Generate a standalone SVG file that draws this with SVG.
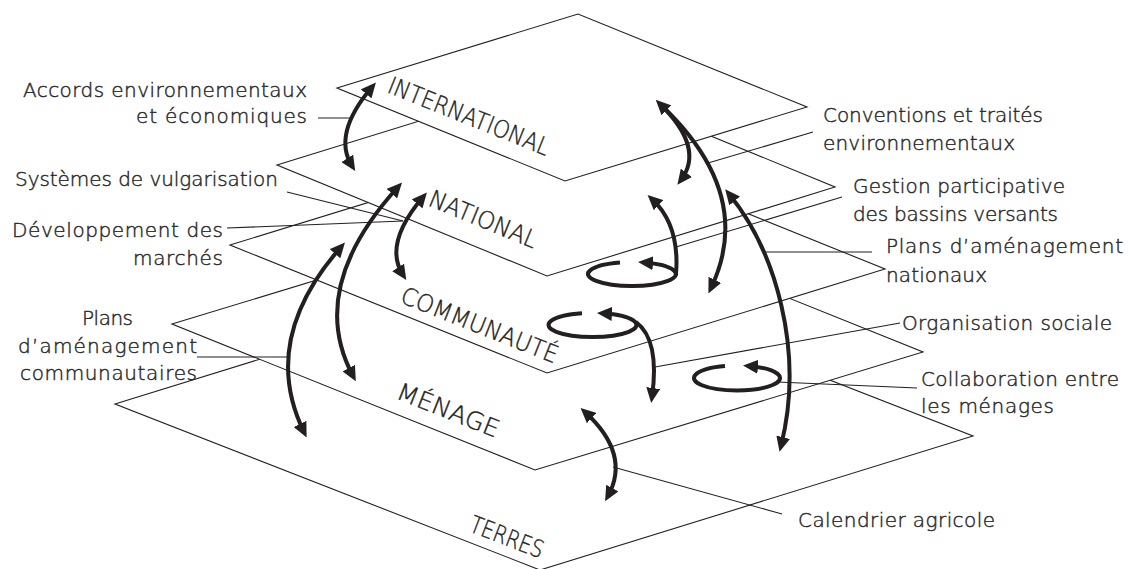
<svg xmlns="http://www.w3.org/2000/svg" width="1129" height="569" viewBox="0 0 1129 569">
  <style>
    .plane { fill: #ffffff; stroke: #231f20; stroke-width: 1.1; stroke-linejoin: miter; }
    .lead { fill: none; stroke: #231f20; stroke-width: 1.1; }
    .arr { fill: none; stroke: #231f20; stroke-width: 4; stroke-linecap: butt; }
    .lbl { font-family: "DejaVu Sans", "Liberation Sans", sans-serif; font-size: 20px; font-weight: 200; fill: #2a2a2a; stroke: #2a2a2a; stroke-width: 0.45; }
    .lvl { font-family: "DejaVu Sans", "Liberation Sans", sans-serif; font-size: 24px; font-weight: 200; fill: #231f20; stroke: #231f20; stroke-width: 0.4; }
  </style>
  <defs>
    <marker id="head" viewBox="0 0 15 14" refX="9" refY="7" markerWidth="15" markerHeight="14" markerUnits="userSpaceOnUse" orient="auto-start-reverse">
      <path d="M0,0 L15,7 L0,14 Z" fill="#231f20"/>
    </marker>
  </defs>

  <!-- stacked planes, drawn from the ground up so each hides the one below -->
  <g id="plane-terres"><polygon class="plane" points="115,404 548,270 973,436 540,570"/></g>
  <g id="plane-menage"><polygon class="plane" points="172,324 560,206 923,352 535,470"/></g>
  <g id="plane-communaute"><polygon class="plane" points="230,245 568,141 885,269 547,373"/></g>
  <g id="plane-national"><polygon class="plane" points="277,165 565,76 835,187 547,276"/></g>
  <g id="plane-international"><polygon class="plane" points="337,88 578,14 807,107 565,181"/></g>

  <!-- leader lines from the labels to the arrows -->
  <g id="leaders">
    <line class="lead" x1="318" y1="118" x2="351" y2="118"/>
    <line class="lead" x1="287" y1="192" x2="403" y2="221"/>
    <line class="lead" x1="227" y1="228" x2="403" y2="221"/>
    <line class="lead" x1="197" y1="357" x2="290" y2="357"/>
    <line class="lead" x1="813" y1="132" x2="708" y2="163"/>
    <line class="lead" x1="842" y1="197" x2="676" y2="247"/>
    <line class="lead" x1="766" y1="252" x2="872" y2="252"/>
    <line class="lead" x1="900" y1="323" x2="655" y2="367"/>
    <line class="lead" x1="917" y1="388" x2="777" y2="382"/>
    <line class="lead" x1="613" y1="467" x2="782" y2="514"/>
  </g>

  <!-- interaction arrows -->
  <g id="arrows">
    <!-- international <-> national, left -->
    <path class="arr" d="M372,87 Q332,134 352,166" marker-start="url(#head)" marker-end="url(#head)"/>
    <!-- international <-> national, right -->
    <path class="arr" d="M660,104 Q705,148 681,180" marker-start="url(#head)" marker-end="url(#head)"/>
    <!-- international <-> communaute -->
    <path class="arr" d="M660,104 Q756,194 711,288" marker-end="url(#head)"/>
    <!-- national <-> menage, right -->
    <path class="arr" d="M729,194 C775,250 805,350 781,446" marker-start="url(#head)" marker-end="url(#head)"/>
    <!-- national <-> communaute, left -->
    <path class="arr" d="M423,197 Q383,244 403,275" marker-start="url(#head)" marker-end="url(#head)"/>
    <!-- national <-> menage, left -->
    <path class="arr" d="M398,187 Q306,288 353,376" marker-start="url(#head)" marker-end="url(#head)"/>
    <!-- communaute <-> terres -->
    <path class="arr" d="M341,247 Q259,340 304,432" marker-start="url(#head)" marker-end="url(#head)"/>
    <!-- national loop -->
    <path class="arr" d="M620,262.5 A44,12 0 1 0 644,262.5" marker-end="url(#head)"/>
    <path class="arr" d="M676,274 Q680,225 652,199" marker-end="url(#head)"/>
    <!-- communaute loop -->
    <path class="arr" d="M582,313.3 A44,12 0 1 0 603,313.3" marker-end="url(#head)"/>
    <path class="arr" d="M636,322 Q660,340 652,397" marker-end="url(#head)"/>
    <!-- menage loop -->
    <path class="arr" d="M725,366 A43,12.5 0 1 0 749,366" marker-end="url(#head)"/>
    <!-- menage <-> terres -->
    <path class="arr" d="M585,412 Q631,454 608,496" marker-start="url(#head)" marker-end="url(#head)"/>
  </g>

  <!-- level names along the planes -->
  <g id="level-labels">
    <text class="lvl" transform="translate(386,92) rotate(21.8)" textLength="172" lengthAdjust="spacingAndGlyphs">INTERNATIONAL</text>
    <text class="lvl" transform="translate(427,205) rotate(22.3)" textLength="115" lengthAdjust="spacingAndGlyphs">NATIONAL</text>
    <text class="lvl" transform="translate(399,302) rotate(21.6)" textLength="167" lengthAdjust="spacingAndGlyphs">COMMUNAUTÉ</text>
    <text class="lvl" transform="translate(395,398) rotate(21.6)" textLength="108" lengthAdjust="spacingAndGlyphs">MÉNAGE</text>
    <text class="lvl" transform="translate(468,531) rotate(21)" textLength="77" lengthAdjust="spacingAndGlyphs">TERRES</text>
  </g>

  <!-- side labels -->
  <g id="label-accords">
    <text class="lbl" x="23" y="97" textLength="284">Accords environnementaux</text>
    <text class="lbl" x="136" y="123" textLength="171">et économiques</text>
  </g>
  <g id="label-vulgarisation">
    <text class="lbl" x="15" y="186" textLength="263">Systèmes de vulgarisation</text>
  </g>
  <g id="label-marches">
    <text class="lbl" x="12" y="237" textLength="211">Développement des</text>
    <text class="lbl" x="133" y="265" textLength="90">marchés</text>
  </g>
  <g id="label-plans-communautaires">
    <text class="lbl" x="82" y="325" textLength="51">Plans</text>
    <text class="lbl" x="18" y="353" textLength="179">d’aménagement</text>
    <text class="lbl" x="20" y="380" textLength="177">communautaires</text>
  </g>
  <g id="label-conventions">
    <text class="lbl" x="823" y="122" textLength="220">Conventions et traités</text>
    <text class="lbl" x="823" y="150" textLength="192">environnementaux</text>
  </g>
  <g id="label-bassins">
    <text class="lbl" x="853" y="193" textLength="212">Gestion participative</text>
    <text class="lbl" x="853" y="221" textLength="205">des bassins versants</text>
  </g>
  <g id="label-plans-nationaux">
    <text class="lbl" x="886" y="253" textLength="237">Plans d’aménagement</text>
    <text class="lbl" x="886" y="282" textLength="101">nationaux</text>
  </g>
  <g id="label-organisation">
    <text class="lbl" x="902" y="330" textLength="210">Organisation sociale</text>
  </g>
  <g id="label-collaboration">
    <text class="lbl" x="921" y="386" textLength="198">Collaboration entre</text>
    <text class="lbl" x="921" y="413" textLength="133">les ménages</text>
  </g>
  <g id="label-calendrier">
    <text class="lbl" x="798" y="527" textLength="197">Calendrier agricole</text>
  </g>
</svg>
